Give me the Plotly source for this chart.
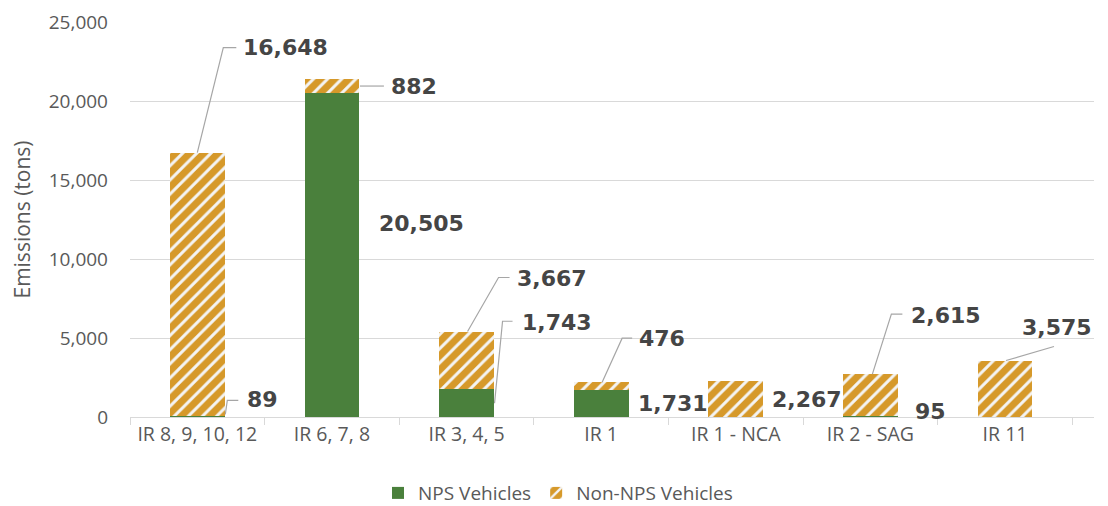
import plotly.graph_objects as go

categories = ["IR 8, 9, 10, 12", "IR 6, 7, 8", "IR 3, 4, 5", "IR 1", "IR 1 - NCA", "IR 2 - SAG", "IR 11"]
nps_vehicles = [89, 20505, 1743, 1731, 0, 95, 0]
non_nps_vehicles = [16648, 882, 3667, 476, 2267, 2615, 3575]
y_ticks = [0, 5000, 10000, 15000, 20000, 25000]

GREEN = "#4A803C"
ORANGE = "#D6992A"
LABEL = "#454545"
GREY = "#595959"
LEADER = "#A6A6A6"

fig = go.Figure()
fig.add_trace(go.Bar(
    x=categories, y=nps_vehicles, name="NPS Vehicles",
    marker=dict(color=GREEN, line=dict(width=0)),
))
fig.add_trace(go.Bar(
    x=categories, y=non_nps_vehicles, name="Non-NPS Vehicles",
    marker=dict(color=ORANGE, line=dict(width=0),
                pattern=dict(shape="/", size=10, solidity=0.3,
                             fgcolor="#F4F4F4", bgcolor=ORANGE, fillmode="replace")),
))

# label placement (pixel offsets from the data anchor) and leader paths (pixels)
# series: 0 = NPS, 1 = Non-NPS ; anchor: 'top' or 'mid'
label_specs = [
    (0, 1, "top", 44, 105, [(0, 0), (26, 105), (39, 105)]),
    (1, 1, "mid", 57, 0, [(28, 0), (52, 0)]),
    (1, 0, "mid", 45, 32, None),
    (2, 1, "top", 48, 53, [(1, 0), (32, 54), (43, 54)]),
    (2, 0, "mid", 53, 81, [(28, 0), (36, 82), (46, 82)]),
    (3, 1, "top", 36, 44, [(1, 0), (21, 44), (31, 44)]),
    (3, 0, "mid", 35, 0, None),
    (4, 1, "mid", 34, 0, None),
    (5, 1, "top", 39, 59, [(2, 0), (21, 60), (32, 60)]),
    (5, 0, "mid", 43, 5, None),
    (6, 1, "top", 15, 33, [(1, 0), (49, 14)]),
    (0, 0, "mid", 48, 17, [(28, 2), (30, 16), (41, 16)]),
]

series = [nps_vehicles, non_nps_vehicles]
annotations = []
shapes = []
for ci, si, anc, dx, dy, pts in label_specs:
    base = 0 if si == 0 else nps_vehicles[ci]
    val = series[si][ci]
    yv = base + val if anc == "top" else base + val / 2
    annotations.append(dict(
        x=categories[ci], y=yv, xref="x", yref="y",
        text=f"<b>{val:,}</b>", showarrow=False, xanchor="left", yanchor="middle",
        xshift=dx, yshift=dy,
        font=dict(family="DejaVu Sans", size=22, color=LABEL),
    ))
    if pts:
        path = "M " + " L ".join(f"{px},{py}" for px, py in pts)
        shapes.append(dict(
            type="path", xref="x", yref="y", xsizemode="pixel", ysizemode="pixel",
            xanchor=categories[ci], yanchor=yv, path=path,
            line=dict(color=LEADER, width=1.2),
        ))

# the page body adds an 8px offset, so the figure is 8px smaller
fig.update_layout(
    width=1100, height=498,
    margin=dict(l=122, r=14, t=14, b=89, autoexpand=False),
    paper_bgcolor="white", plot_bgcolor="white",
    barmode="stack", bargap=0.593,
    font=dict(family="Open Sans", color=GREY),
    showlegend=True,
    legend=dict(orientation="h", x=0.5, xanchor="center", xref="container",
                y=0.026, yanchor="middle", yref="container",
                font=dict(size=19, color=GREY), traceorder="normal"),
    annotations=annotations,
    shapes=shapes,
)
fig.update_xaxes(
    type="category", showgrid=False, showline=True, linecolor="#D9D9D9", linewidth=1,
    ticks="outside", tickson="boundaries", ticklen=7, tickcolor="#D9D9D9",
    tickfont=dict(size=19.5, color=GREY), automargin=False,
)
fig.update_yaxes(
    range=[0, 25000], tickvals=y_ticks, tickformat=",d",
    showgrid=True, gridcolor="#D9D9D9", gridwidth=1, zeroline=False, showline=False,
    ticks="", ticklabelstandoff=21, ticklabeloverflow="allow",
    tickfont=dict(size=19, color=GREY),
    title=dict(text="Emissions (tons)", font=dict(size=21, color=GREY), standoff=20),
    automargin=False,
)

fig.write_html("out.html")
